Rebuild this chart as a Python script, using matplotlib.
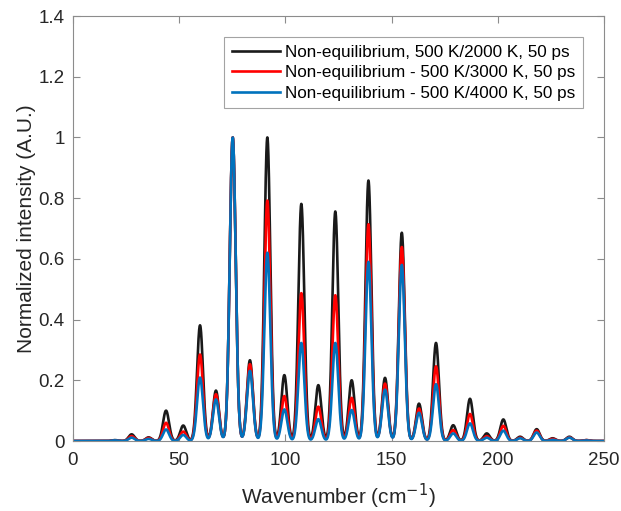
import numpy as np
import matplotlib
matplotlib.use('Agg')
import matplotlib.pyplot as plt
from matplotlib.ticker import FuncFormatter

plt.rcParams['font.family'] = ['Liberation Sans', 'DejaVu Sans']

# Centros de las líneas rotacionales (cm^-1)
centros = [19.7, 27.6, 35.6, 43.8, 51.9, 59.8, 67.3, 75.2, 83.3, 91.5, 99.5,
           107.5, 115.5, 123.5, 131.2, 139.1, 146.9, 154.8, 162.9, 170.9,
           179.0, 186.9, 194.8, 202.6, 210.5, 218.3, 225.8, 233.7, 241.6]

# Alturas normalizadas de cada línea para cada caso
alturas_2000 = [0.003, 0.022, 0.012, 0.100, 0.051, 0.381, 0.166, 1.000, 0.266,
                1.000, 0.217, 0.781, 0.184, 0.756, 0.200, 0.858, 0.208, 0.686,
                0.123, 0.323, 0.052, 0.139, 0.025, 0.071, 0.014, 0.039, 0.009,
                0.014, 0.003]
alturas_3000 = [0.002, 0.016, 0.010, 0.060, 0.031, 0.285, 0.154, 1.000, 0.253,
                0.792, 0.148, 0.487, 0.113, 0.480, 0.142, 0.714, 0.189, 0.639,
                0.107, 0.246, 0.036, 0.089, 0.016, 0.050, 0.011, 0.034, 0.007,
                0.012, 0.003]
alturas_4000 = [0.002, 0.011, 0.007, 0.038, 0.020, 0.209, 0.137, 1.000, 0.231,
                0.620, 0.104, 0.323, 0.072, 0.323, 0.102, 0.590, 0.169, 0.580,
                0.093, 0.187, 0.025, 0.058, 0.011, 0.034, 0.009, 0.028, 0.004,
                0.011, 0.002]

etiquetas = ['Non-equilibrium, 500 K/2000 K, 50 ps',
             'Non-equilibrium - 500 K/3000 K, 50 ps',
             'Non-equilibrium - 500 K/4000 K, 50 ps']
colores = ['#1a1a1a', '#ff0000', '#0072bd']

sigma = 1.4  # ancho de cada línea (gaussiana)
x = np.linspace(0, 250, 5001)


def espectro(alturas):
    y = np.zeros_like(x)
    for c, a in zip(centros, alturas):
        y += a * np.exp(-0.5 * ((x - c) / sigma) ** 2)
    return y


fig = plt.figure(figsize=(6.21, 5.11), dpi=100)
ax = fig.add_axes([73 / 621, 1 - 441 / 511, 531 / 621, 425 / 511])

for alturas, etiqueta, color in zip([alturas_2000, alturas_3000, alturas_4000], etiquetas, colores):
    ax.plot(x, espectro(alturas), color=color, lw=1.9, label=etiqueta)

ax.set_xlim(0, 250)
ax.set_ylim(0, 1.4)
ax.set_xticks(np.arange(0, 251, 50))
ax.set_yticks(np.arange(0, 1.41, 0.2))
ax.yaxis.set_major_formatter(FuncFormatter(lambda v, p: '%g' % round(v, 1)))

for s in ax.spines.values():
    s.set_color('#8c8c8c')
    s.set_linewidth(0.8)
ax.tick_params(direction='in', length=5, width=0.8, color='#8c8c8c',
               top=True, right=True, labelsize=13.5, labelcolor='#262626')
ax.tick_params(axis='x', pad=8)
ax.tick_params(axis='y', pad=6)

ax.set_xlabel('Wavenumber (cm$^{-1}$)', fontsize=15, color='#262626', labelpad=9)
ax.set_ylabel('Normalized intensity (A.U.)', fontsize=15, color='#262626', labelpad=2)

leg = ax.legend(loc='upper right', bbox_to_anchor=(0.9605, 0.9506), fontsize=12.3,
                frameon=True, fancybox=False, handlelength=2.8, handletextpad=0.3,
                borderpad=0.45, labelspacing=0.32, borderaxespad=0)
leg.get_frame().set_edgecolor('#8c8c8c')
leg.get_frame().set_linewidth(0.8)

fig.savefig('out.png', dpi=100)
